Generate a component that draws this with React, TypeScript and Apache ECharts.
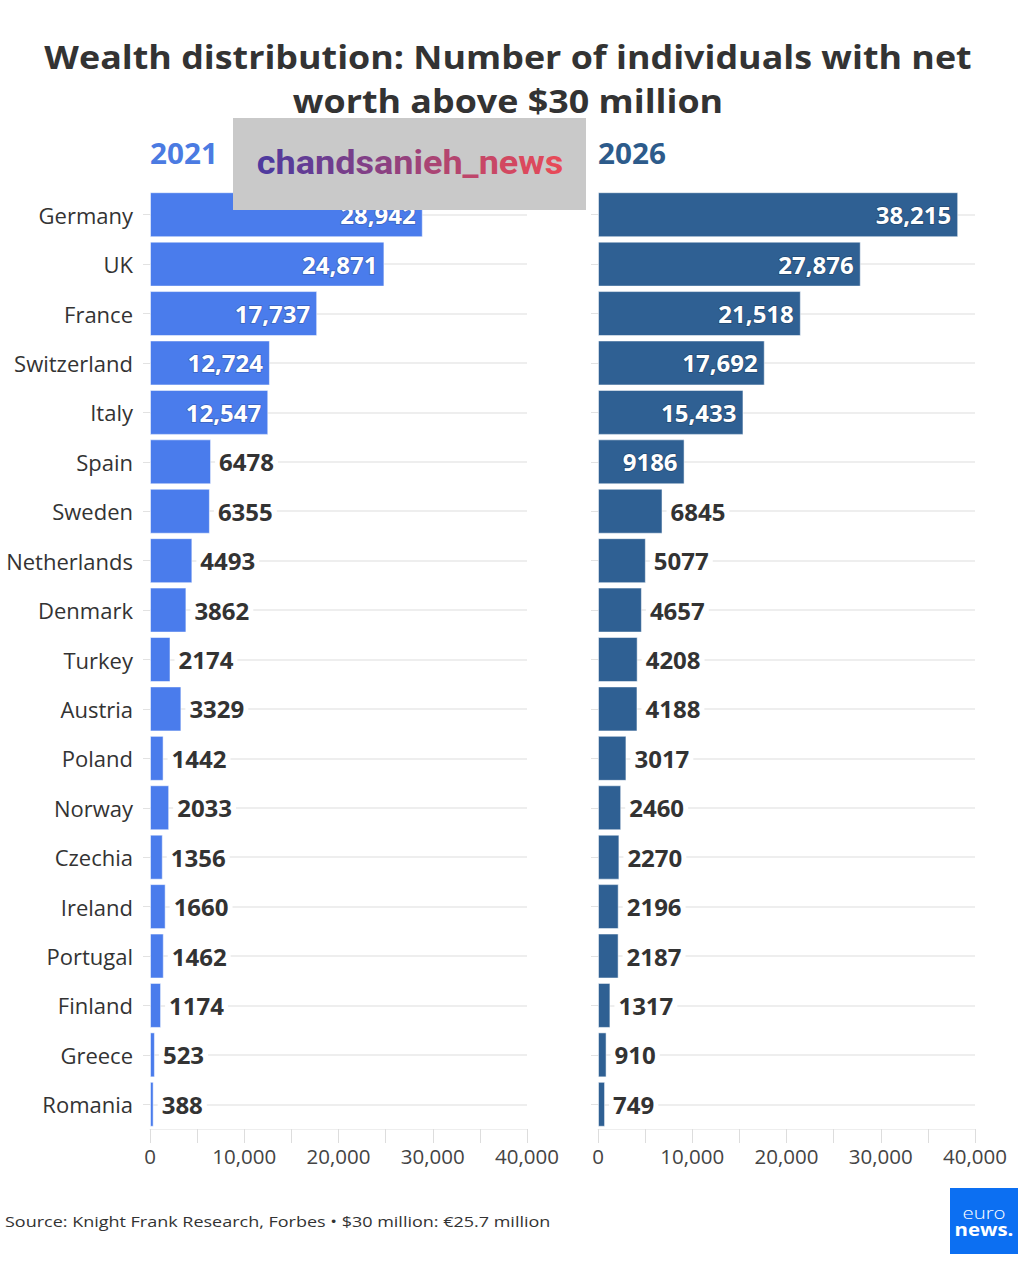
import React, { useEffect, useRef } from "react";
import * as echarts from "echarts";

const countries = [
  "Germany", "UK", "France", "Switzerland", "Italy", "Spain", "Sweden",
  "Netherlands", "Denmark", "Turkey", "Austria", "Poland", "Norway",
  "Czechia", "Ireland", "Portugal", "Finland", "Greece", "Romania",
];
const values2021 = [
  28942, 24871, 17737, 12724, 12547, 6478, 6355, 4493, 3862, 2174, 3329,
  1442, 2033, 1356, 1660, 1462, 1174, 523, 388,
];
const values2026 = [
  38215, 27876, 21518, 17692, 15433, 9186, 6845, 5077, 4657, 4208, 4188,
  3017, 2460, 2270, 2196, 2187, 1317, 910, 749,
];
const xTicks = [0, 10000, 20000, 30000, 40000];

const titleText = "Wealth distribution: Number of individuals with net\nworth above $30 million";
const sourceText = "Source: Knight Frank Research, Forbes • $30 million: €25.7 million";
const watermarkText = "chandsanieh_news";

const COLOR_2021 = "#4a7cec";
const COLOR_2026 = "#2f6093";
const FONT = "Open Sans";

const fmt = (v: number) => (v >= 10000 ? v.toLocaleString("en-US") : String(v));

function makeBarData(values: number[], shadow: string) {
  return values.map((v) => {
    const inside = v >= 9000;
    return {
      value: v,
      label: inside
        ? {
            show: true,
            position: "insideRight",
            color: "#ffffff",
            textBorderColor: shadow,
            textBorderWidth: 1.5,
            distance: 7,
          }
        : {
            show: true,
            position: "right",
            color: "#333333",
            distance: 4,
            backgroundColor: "#ffffff",
            padding: [0, 4, 0, 4],
          },
    };
  });
}

function lerpColor(a: string, b: string, t: number) {
  const pa = [1, 3, 5].map((i) => parseInt(a.slice(i, i + 2), 16));
  const pb = [1, 3, 5].map((i) => parseInt(b.slice(i, i + 2), 16));
  const c = pa.map((x, i) => Math.round(x + (pb[i] - x) * t));
  return "rgb(" + c.join(",") + ")";
}

export default function App() {
  const ref = useRef<HTMLDivElement>(null);
  useEffect(() => {
    document.body.style.margin = "0";
    const chart = echarts.init(ref.current!, null, { renderer: "svg" });
    const gridTop = 190;
    const gridHeight = 939;
    const xAxisCommon = (gridIndex: number) => ({
      type: "value",
      gridIndex,
      min: 0,
      max: 40000,
      interval: 5000,
      splitLine: { show: false },
      axisLine: { show: true, lineStyle: { color: "#eeeeee", width: 1 } },
      axisTick: { show: true, length: 14, lineStyle: { color: "#dddddd" } },
      axisLabel: {
        margin: 16,
        fontFamily: FONT,
        fontSize: 20.5,
        color: "#444444",
        formatter: (v: number) => (xTicks.includes(v) ? fmt(v) : ""),
      },
    });
    const yAxisCommon = (gridIndex: number, showLabels: boolean) => ({
      type: "category",
      gridIndex,
      data: countries,
      inverse: true,
      axisLine: { show: false },
      axisTick: {
        show: true,
        alignWithLabel: true,
        length: 7,
        lineStyle: { color: "#e2e2e2" },
      },
      axisLabel: {
        show: showLabels,
        margin: 17,
        fontFamily: FONT,
        fontSize: 22,
        color: "#333333",
      },
      splitLine: { show: false },
    });
    const gridLines = (xi: number) => ({
      type: "line",
      xAxisIndex: xi,
      yAxisIndex: xi,
      data: [],
      z: 1,
      silent: true,
      markLine: {
        z: 1,
        silent: true,
        symbol: "none",
        label: { show: false },
        lineStyle: { color: "#eeeeee", type: "solid", width: 2 },
        data: countries.map((c) => ({ yAxis: c })),
      },
    });
    const barSeries = (xi: number, values: number[], color: string, shadow: string) => ({
      type: "bar",
      xAxisIndex: xi,
      yAxisIndex: xi,
      z: 3,
      barCategoryGap: "9%",
      itemStyle: { color, borderColor: "rgba(255,255,255,0.5)", borderWidth: 1 },
      label: {
        fontFamily: FONT,
        fontSize: 24,
        fontWeight: "bold",
        formatter: (p: any) => fmt(p.value),
      },
      data: makeBarData(values, shadow),
    });

    const rich: Record<string, any> = {};
    let wmText = "";
    const chars = watermarkText.split("");
    chars.forEach((ch, i) => {
      const key = "c" + i;
      rich[key] = {
        fill: lerpColor("#4f3a9e", "#e64a58", i / (chars.length - 1)),
        fontFamily: "Roboto",
        fontSize: 34,
        fontWeight: "bold",
      };
      wmText += "{" + key + "|" + ch + "}";
    });

    chart.setOption({
      animation: false,
      backgroundColor: "#ffffff",
      grid: [
        { left: 150, width: 377, top: gridTop, height: gridHeight },
        { left: 598, width: 377, top: gridTop, height: gridHeight },
      ],
      xAxis: [xAxisCommon(0), xAxisCommon(1)],
      yAxis: [yAxisCommon(0, true), yAxisCommon(1, false)],
      series: [
        gridLines(0),
        gridLines(1),
        barSeries(0, values2021, COLOR_2021, "#3a63c0"),
        barSeries(1, values2026, COLOR_2026, "#234a72"),
      ],
      graphic: [
        {
          type: "text",
          x: 508,
          y: 79,
          scaleX: 1.12,
          style: {
            text: titleText,
            align: "center",
            verticalAlign: "middle",
            fontFamily: FONT,
            fontSize: 32,
            fontWeight: "bold",
            lineHeight: 44,
            fill: "#333333",
          },
        },
        {
          type: "text",
          x: 150,
          y: 153,
          scaleX: 1.06,
          style: {
            text: "2021",
            verticalAlign: "middle",
            fill: "#4b7be2",
            fontFamily: FONT,
            fontSize: 28,
            fontWeight: "bold",
          },
        },
        {
          type: "text",
          x: 598,
          y: 153,
          scaleX: 1.06,
          style: {
            text: "2026",
            verticalAlign: "middle",
            fill: "#2d5b8b",
            fontFamily: FONT,
            fontSize: 28,
            fontWeight: "bold",
          },
        },
        {
          type: "rect",
          z: 100,
          shape: { x: 233, y: 118, width: 353, height: 92 },
          style: { fill: "#c9c9c9" },
        },
        {
          type: "text",
          z: 101,
          x: 410,
          y: 163,
          scaleX: 1.06,
          style: {
            text: wmText,
            rich,
            align: "center",
            verticalAlign: "middle",
            fontFamily: "Roboto",
            fontSize: 34,
            fontWeight: "bold",
          },
        },
        {
          type: "text",
          x: 5,
          y: 1221,
          scaleX: 1.2,
          style: {
            text: sourceText,
            verticalAlign: "middle",
            fontFamily: FONT,
            fontSize: 15,
            fill: "#333333",
          },
        },
        {
          type: "rect",
          shape: { x: 950, y: 1188, width: 68, height: 66 },
          style: { fill: "#0c6ff2" },
        },
        {
          type: "text",
          x: 984,
          y: 1212,
          scaleX: 1.2,
          style: {
            text: "euro",
            align: "center",
            verticalAlign: "middle",
            fontFamily: FONT,
            fontSize: 17,
            fontWeight: 300,
            fill: "#ffffff",
          },
        },
        {
          type: "text",
          x: 984,
          y: 1229,
          scaleX: 1.2,
          style: {
            text: "news.",
            align: "center",
            verticalAlign: "middle",
            fontFamily: FONT,
            fontSize: 17,
            fontWeight: "bold",
            fill: "#ffffff",
          },
        },
      ],
    });
    return () => chart.dispose();
  }, []);
  return <div ref={ref} style={{ width: 1024, height: 1280 }} />;
}
